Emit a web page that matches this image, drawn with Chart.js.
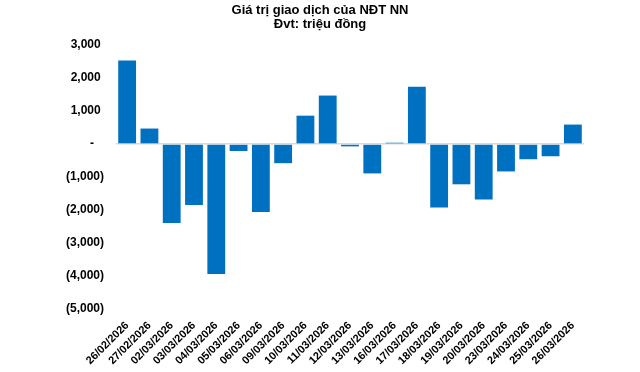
<!DOCTYPE html>
<html>
<head>
<meta charset="utf-8">
<script src="https://cdn.jsdelivr.net/npm/chart.js@4/dist/chart.umd.min.js"></script>
<style>
  html, body { margin: 0; padding: 0; background: #fff; }
  #wrap { width: 640px; height: 372px; position: relative; }
</style>
</head>
<body>
<div id="wrap"><canvas id="c"></canvas></div>
<script>
// Giá trị giao dịch của NĐT NN (triệu đồng)
const dates = [
    '26/02/2026', '27/02/2026', '02/03/2026', '03/03/2026', '04/03/2026',
    '05/03/2026', '06/03/2026', '09/03/2026', '10/03/2026', '11/03/2026',
    '12/03/2026', '13/03/2026', '16/03/2026', '17/03/2026', '18/03/2026',
    '19/03/2026', '20/03/2026', '23/03/2026', '24/03/2026', '25/03/2026',
    '26/03/2026'
];
const netValues = [
    2530, 470, -2390, -1850, -3940,
    -210, -2060, -580, 860, 1470,
    -70, -890, 40, 1740, -1920,
    -1220, -1680, -830, -460, -370,
    590
];
const titleLines = ['Giá trị giao dịch của NĐT NN', 'Đvt: triệu đồng'];
const yMin = -5000, yMax = 3000, yStep = 1000;

const FONT = "'Liberation Sans', Arial, sans-serif";

function fmtTick(v) {
    const s = Math.abs(v).toLocaleString('en-US');
    if (v > 0) return s + ' ';
    if (v < 0) return '(' + s + ')';
    return '-   ';
}

new Chart(document.getElementById('c'), {
    type: 'bar',
    data: {
        labels: dates,
        datasets: [{
            data: netValues,
            backgroundColor: '#0070C0',
            borderWidth: 0,
            barPercentage: 0.8,
            categoryPercentage: 1,
        }],
    },
    options: {
        responsive: true,
        maintainAspectRatio: false,
        animation: false,
        // symmetric side padding keeps the title centred on the page
        layout: { padding: { left: 56, right: 56, top: 0, bottom: 0 } },
        plugins: {
            legend: { display: false },
            tooltip: { enabled: false },
            title: {
                display: true,
                text: titleLines,
                color: '#000',
                font: { family: FONT, size: 13, weight: 'bold', lineHeight: 1.08 },
                padding: { top: 3, bottom: 14 },
            },
        },
        scales: {
            x: {
                grid: { display: false },
                border: { display: false },
                ticks: {
                    color: '#000',
                    font: { family: FONT, size: 11, weight: 'bold' },
                    minRotation: 45,
                    maxRotation: 45,
                    autoSkip: false,
                    padding: 2,
                },
                afterFit: s => { s.height = 63; },
            },
            y: {
                min: yMin,
                max: yMax,
                grid: {
                    drawTicks: false,
                    lineWidth: 1.5,
                    color: ctx => (ctx.tick && ctx.tick.value === 0) ? '#d9d9d9' : 'rgba(0,0,0,0)',
                },
                border: { display: false },
                ticks: {
                    stepSize: yStep,
                    color: '#000',
                    font: { family: FONT, size: 12, weight: 'bold' },
                    padding: 12,
                    callback: v => fmtTick(v),
                },
                afterFit: s => { s.width = 60; },
            },
        },
    },
});
</script>
</body>
</html>
